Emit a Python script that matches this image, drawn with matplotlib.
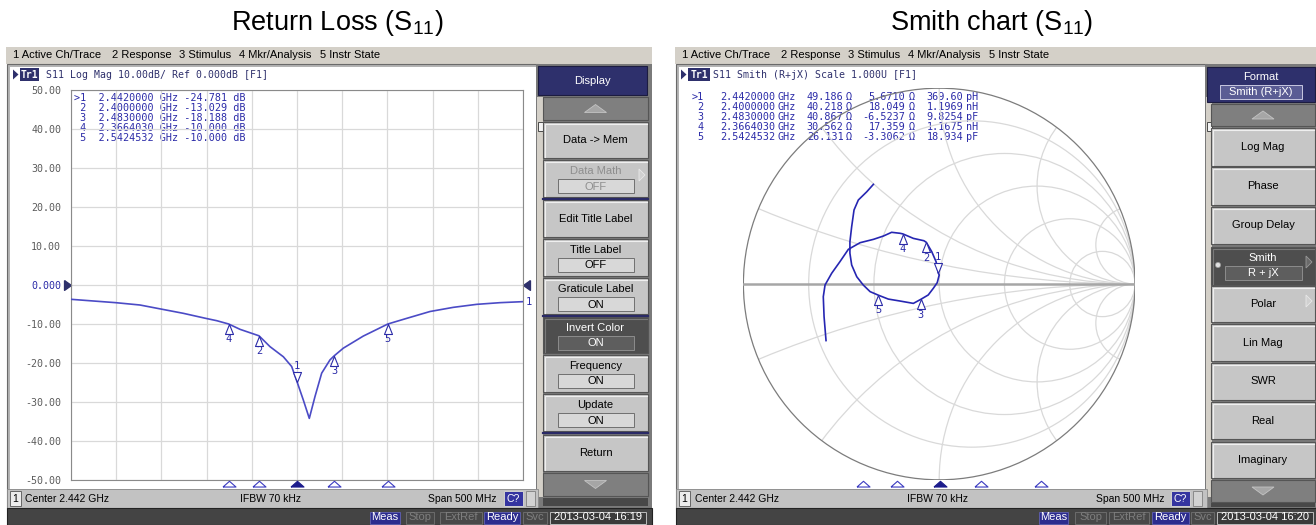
import numpy as np
import matplotlib.pyplot as plt
from matplotlib.patches import Rectangle, Circle, Polygon
import matplotlib.transforms as mtransforms

plt.rcParams['mathtext.fontset'] = 'custom'
plt.rcParams['mathtext.rm'] = 'Liberation Sans'
plt.rcParams['mathtext.default'] = 'regular'

start_ghz, stop_ghz = 2.192, 2.692

freq_ghz = [2.192, 2.2167, 2.2414, 2.2683, 2.2912, 2.3162, 2.341, 2.3532, 2.3664,
            2.379, 2.400, 2.4121, 2.4269, 2.4361, 2.442, 2.449, 2.4556, 2.4619,
            2.4693, 2.4785, 2.483, 2.4932, 2.5153, 2.5425, 2.5634, 2.5891, 2.6149,
            2.6408, 2.6666, 2.692]
s11_db = [-3.67, -4.1, -4.53, -5.13, -6.15, -7.26, -8.55, -9.15, -10.0,
          -11.37, -13.03, -15.8, -18.4, -20.9, -24.78, -29.5, -34.2, -28.6,
          -22.6, -19.2, -18.19, -16.2, -13.1, -10.0, -8.55, -6.8, -5.73,
          -4.96, -4.53, -4.27]

mk_num = [1, 2, 3, 4, 5]
mk_freq = [2.4420000, 2.4000000, 2.4830000, 2.3664030, 2.5424532]
mk_db = [-24.781, -13.029, -18.188, -10.000, -10.000]
mk_r = [49.186, 40.218, 40.867, 30.562, 26.131]
mk_x = [5.6710, 18.049, -6.5237, 17.359, -3.3062]
mk_lc = [369.60, 1.1969, 9.8254, 1.1675, 18.934]
mk_lc_unit = ["pH", "nH", "pF", "nH", "pF"]

# S11 trace on the Smith chart (reflection coefficient, start -> stop)
gamma_re = [-0.578, -0.588, -0.592, -0.583, -0.549, -0.507, -0.464, -0.404, -0.336,
            -0.285, -0.243, -0.200, -0.186, -0.132, -0.078, -0.066, -0.038, -0.016,
            -0.005, 0.000, -0.010, -0.030, -0.056, -0.095, -0.132, -0.200, -0.260,
            -0.311, -0.353, -0.388, -0.421, -0.447, -0.456, -0.456, -0.447, -0.435,
            -0.413, -0.370, -0.336]
gamma_im = [-0.289, -0.167, -0.065, -0.005, 0.055, 0.114, 0.177, 0.211, 0.228,
            0.245, 0.264, 0.259, 0.256, 0.233, 0.221, 0.213, 0.165, 0.114,
            0.057, 0.046, 0.007, -0.022, -0.056, -0.079, -0.099, -0.087, -0.077,
            -0.057, -0.039, -0.005, 0.037, 0.097, 0.157, 0.216, 0.293, 0.378,
            0.429, 0.471, 0.509]

db_ticks = [50, 40, 30, 20, 10, 0, -10, -20, -30, -40, -50]
db_labels = ["50.00", "40.00", "30.00", "20.00", "10.00", "0.000",
             "-10.00", "-20.00", "-30.00", "-40.00", "-50.00"]
smith_r = [0.2, 0.5, 1, 2, 5]
smith_x = [0.2, 0.5, 1, 2, 5]

UI = 'Liberation Sans'
MONO = 'DejaVu Sans Mono'
NAVY = '#2e306c'
MKC = '#2b2ba8'
GRID = '#d9d9d9'

W, H = 1316, 525
fig = plt.figure(figsize=(W / 100, H / 100), dpi=100)
bg = fig.add_axes([0, 0, 1, 1])
bg.set_xlim(0, W)
bg.set_ylim(H, 0)
bg.axis('off')


def px_axes(x0, y0, x1, y1):
    return fig.add_axes([x0 / W, 1 - y1 / H, (x1 - x0) / W, (y1 - y0) / H])


def box(x0, y0, x1, y1, fc, ec='none', lw=0.8, z=1):
    bg.add_patch(Rectangle((x0, y0), x1 - x0, y1 - y0, facecolor=fc,
                           edgecolor=ec, linewidth=lw, zorder=z))


def txt(x, y, s, size=8, color='black', ha='left', family=UI, **kw):
    bg.text(x, y, s, fontsize=size, color=color, ha=ha, va='center',
            family=family, zorder=5, **kw)


def tri(pts, fc, ec='none', lw=0.6):
    bg.add_patch(Polygon(pts, closed=True, facecolor=fc, edgecolor=ec,
                         linewidth=lw, zorder=4))


def key(x0, y0, x1, y1, label, value=None, dark=False, grey=False,
        arrow=False, dot=False, bx=(15, 14)):
    fc = '#4e4e4e' if dark else '#c6c6c6'
    box(x0, y0, x1, y1, fc, '#555555', 0.8, z=2)
    hl = '#7a7a7a' if dark else '#efefef'
    bg.plot([x0 + 1.5, x0 + 1.5, x1 - 1.5], [y1 - 1.5, y0 + 1.5, y0 + 1.5],
            color=hl, lw=0.8, zorder=3)
    tc = 'white' if dark else ('#8e8e8e' if grey else 'black')
    cx = (x0 + x1) / 2
    if value is None:
        txt(cx, (y0 + y1) / 2, label, color=tc, ha='center')
    else:
        txt(cx, y0 + 11, label, color=tc, ha='center')
        box(x0 + bx[0], y0 + 19, x1 - bx[1], y0 + 33,
            '#5e5e5e' if dark else '#d8d8d8', '#8c8c8c' if dark else '#707070', 0.7, z=3)
        txt((x0 + bx[0] + x1 - bx[1]) / 2, y0 + 26.5, value, color=tc, ha='center')
    if arrow:
        tri([(x1 - 9, y0 + 9), (x1 - 9, y0 + 21), (x1 - 3, y0 + 15)],
            '#d0d0d0' if not dark else '#6a6a6a', '#e8e8e8' if not dark else '#9a9a9a')
    if dot:
        bg.add_patch(Circle((x0 + 7, y0 + 18), 2.6, facecolor='#e0e0e0',
                            edgecolor='#999999', lw=0.5, zorder=4))


def scroll(x0, y0, x1, y1, up):
    box(x0, y0, x1, y1, '#7f7f7f', '#555555', 0.8, z=2)
    cx, cy = (x0 + x1) / 2, (y0 + y1) / 2
    if up:
        pts = [(cx - 11, cy + 4), (cx + 11, cy + 4), (cx, cy - 4)]
    else:
        pts = [(cx - 11, cy - 4), (cx + 11, cy - 4), (cx, cy + 4)]
    tri(pts, '#a6a6a6', '#c4c4c4')


def status_bits(ox, x_c, x_ifbw, x_span, x_cq, items, date):
    box(ox + 7, 489, ox + 538, 508, '#c2c2c2', '#8a8a8a', 0.6)
    box(ox + 10, 491, ox + 21, 506, '#ececec', '#666666', 0.7, z=2)
    txt(ox + 15.5, 498.5, "1", size=7.5, ha='center')
    txt(x_c, 498.5, "Center 2.442 GHz", size=7.5)
    txt(x_ifbw, 498.5, "IFBW 70 kHz", size=7.5)
    txt(x_span, 498.5, "Span 500 MHz", size=7.5, ha='right')
    box(x_cq, 491, x_cq + 19, 506, '#3434a0', '#d0d0d0', 0.7, z=2)
    txt(x_cq + 9.5, 498.5, "C?", size=7.5, color='white', ha='center')
    box(x_cq + 22, 491, x_cq + 31, 506, '#d2d2d2', '#8a8a8a', 0.7, z=2)
    box(ox + 7, 508, ox + 652, 525, '#444444', '#222222', 0.8)
    for a, b, s, on in items:
        if on:
            box(a, 511.5, b, 523.5, '#2c2c8e', '#5c5ca8', 0.7, z=2)
            txt((a + b) / 2, 517.5, s, size=8, color='white', ha='center')
        else:
            box(a, 511.5, b, 523.5, '#484848', '#6c6c6c', 0.7, z=2)
            txt((a + b) / 2, 517.5, s, size=8, color='#7e7e7e', ha='center')
    a, b = date
    box(a, 511.5, b, 523.5, '#3a3a3a', '#bcbcbc', 0.7, z=2)
    txt((a + b) / 2, 517.5, s_date[ox > 0], size=8, color='white', ha='center')


s_date = ["2013-03-04 16:19", "2013-03-04 16:20"]
menu = ["1 Active Ch/Trace", "2 Response", "3 Stimulus", "4 Mkr/Analysis", "5 Instr State"]
menu_x = [12.7, 111.7, 179, 239, 320]

# ---------- shared window chrome ----------
for ox in (0, 669):
    box(ox + 6, 47, ox + 652, 64, '#d4d0c8')
    for s, mx in zip(menu, menu_x):
        txt(ox + mx, 55.5, s, size=8)
    box(ox + 7, 64, ox + 538, 509, '#b4b4b4', '#6a6a6a', 0.8)
    box(ox + 10, 66.5, ox + 536, 489, 'white')
    box(ox + 536, 64, ox + 652, 508, '#7a7a7a')
    box(ox + 537, 97, ox + 543, 497, '#d4d0c8')
    box(ox + 537.5, 122, ox + 542.5, 131, '#f4f4f4', '#333333', 0.6, z=2)

# ---------- left: Log Mag ----------
txt(337, 23, "Return Loss (S$_{11}$)", size=19.5, ha='center')
tri([(13, 69.5), (13, 79.5), (18.5, 74.5)], NAVY)
box(20, 68, 39, 81, NAVY, z=3)
txt(29.5, 74.5, "Tr1", size=7, color='white', ha='center', family=MONO, weight='bold')
txt(45.5, 74.5, "S11 Log Mag 10.00dB/ Ref 0.000dB [F1]", size=7.1, color=NAVY, family=MONO)

lm = px_axes(71, 90, 523, 480)
lm.patch.set_alpha(0)
lm.set_xlim(start_ghz, stop_ghz)
lm.set_ylim(-50, 50)
lm.set_xticks(np.linspace(start_ghz, stop_ghz, 11))
lm.set_yticks(db_ticks)
lm.set_yticklabels(db_labels, family=MONO, fontsize=7.2, color='#5c5c5c')
lm.get_yticklabels()[5].set_color(MKC)
lm.tick_params(length=0, labelbottom=False, pad=7)
lm.grid(color=GRID, lw=0.9)
for sp in lm.spines.values():
    sp.set_color('#8a8a8a')
    sp.set_linewidth(0.8)
lm.plot(freq_ghz, s11_db, color='#4b4bc6', lw=1.2, zorder=3)

tip_below = [(0, 0), (-0.4, -1), (0.4, -1), (0, 0)]
tip_above = [(0, 0), (-0.4, 1), (0.4, 1), (0, 0)]
stim_tri = [(-1, -1), (1, -1), (0, -0.12), (-1, -1)]


def trace_markers(ax, xs, ys):
    for n, xv, yv in zip(mk_num, xs, ys):
        if n == 1:
            ax.plot(xv, yv, marker=tip_above, ms=14.4, mfc='white', mec=MKC,
                    mew=0.8, zorder=4, clip_on=False)
            ax.annotate(str(n), (xv, yv), xytext=(0, 11), textcoords='offset points',
                        ha='center', va='center', fontsize=7.5, family=MONO, color=MKC)
        else:
            ax.plot(xv, yv, marker=tip_below, ms=14.4, mfc='white', mec=MKC,
                    mew=0.8, zorder=4, clip_on=False)
            ax.annotate(str(n), (xv, yv), xytext=(0, -11), textcoords='offset points',
                        ha='center', va='center', fontsize=7.5, family=MONO, color=MKC)


def stim_markers(ax):
    tr = mtransforms.blended_transform_factory(ax.transData, ax.transAxes)
    for n, f in zip(mk_num, mk_freq):
        active = n == 1
        ax.plot(f, 0, marker=stim_tri, ms=9.4, transform=tr, clip_on=False,
                mfc='#1c1c8c' if active else 'white', mec='#1c1c8c' if active else '#3a3ac0',
                mew=0.8, zorder=4)


trace_markers(lm, mk_freq, mk_db)
stim_markers(lm)
ref_tr = mtransforms.blended_transform_factory(lm.transAxes, lm.transData)
lm.plot(0, 0, marker=[(-1, 0.7), (-1, -0.7), (0, 0), (-1, 0.7)], ms=10, color=NAVY,
        transform=ref_tr, clip_on=False)
lm.plot(1, 0, marker=[(1, 0.7), (1, -0.7), (0, 0), (1, 0.7)], ms=10, color=NAVY,
        transform=ref_tr, clip_on=False)
lm.annotate("1", (freq_ghz[-1], s11_db[-1]), xytext=(2, 0), textcoords='offset points',
            ha='left', va='center', fontsize=7.5, family=MONO, color=MKC,
            annotation_clip=False)

for i, (n, f, d) in enumerate(zip(mk_num, mk_freq, mk_db)):
    pre = ">%d" % n if n == 1 else " %d" % n
    txt(74, 98.3 + 10 * i, "%s  %.7f GHz %.3f dB" % (pre, f, d), size=7.3,
        color=MKC, family=MONO)

# left softkeys
box(538, 66, 647, 95, NAVY, '#1c1c40', 0.8, z=2)
txt(592.5, 81, "Display", color='white', ha='center')
scroll(543, 97, 648, 120, True)
key(543, 122, 648, 158, "Data -> Mem")
key(543, 160, 648, 197, "Data Math", "OFF", grey=True, arrow=True)
key(543, 200, 648, 237, "Edit Title Label")
key(543, 239, 648, 276, "Title Label", "OFF")
key(543, 278, 648, 314, "Graticule Label", "ON")
key(543, 317, 648, 353, "Invert Color", "ON", dark=True)
key(543, 355, 648, 392, "Frequency", "ON")
key(543, 394, 648, 431, "Update", "ON")
key(543, 435, 648, 471, "Return")
scroll(543, 473, 648, 496, False)
box(543, 498, 648, 506, '#484848')
for ys in (198.5, 315.5, 433):
    bg.plot([543, 648], [ys, ys], color='#2a2a66', lw=1.6, zorder=3)

status_bits(0, 25, 240, 497, 504,
            [(370, 400, "Meas", True), (406, 434, "Stop", False),
             (440, 482, "ExtRef", False), (484, 520, "Ready", True),
             (523, 547, "Svc", False)], (550, 646))

# ---------- right: Smith chart ----------
txt(992, 23, "Smith chart (S$_{11}$)", size=19.5, ha='center')
tri([(681, 69.5), (681, 79.5), (686.5, 74.5)], NAVY)
box(688, 68, 710, 81, NAVY, z=3)
txt(699, 74.5, "Tr1", size=7, color='white', ha='center', family=MONO, weight='bold')
txt(712.7, 74.5, "S11 Smith (R+jX) Scale 1.000U [F1]", size=7.1, color=NAVY, family=MONO)

cx, cy, rad = 939.2, 284, 195.8
sm = px_axes(cx - rad, cy - rad, cx + rad, cy + rad)
sm.set_xlim(-1, 1)
sm.set_ylim(-1, 1)
sm.set_aspect('equal')
sm.axis('off')
clip = Circle((0, 0), 1, transform=sm.transData)
for r in smith_r:
    sm.add_patch(Circle((r / (1 + r), 0), 1 / (1 + r), fill=False, ec=GRID, lw=0.9))
for xv in smith_x:
    for sg in (1, -1):
        c = Circle((1, sg / xv), 1 / xv, fill=False, ec=GRID, lw=0.9)
        sm.add_patch(c)
        c.set_clip_path(clip)
sm.plot([-1, 1], [0, 0], color='#a6a6a6', lw=1.8)
sm.add_patch(Circle((0, 0), 1, fill=False, ec='#7c7c7c', lw=0.9))
sm.plot(gamma_re, gamma_im, color='#2626b2', lw=1.2, zorder=3)

z_norm = (np.array(mk_r) + 1j * np.array(mk_x)) / 50.0
gam = (z_norm - 1) / (z_norm + 1)
trace_markers(sm, gam.real, gam.imag)

st = px_axes(687, 470, 1192, 480)
st.set_xlim(start_ghz, stop_ghz)
st.set_ylim(0, 1)
st.axis('off')
stim_markers(st)

for i, n in enumerate(mk_num):
    y = 97.5 + 10 * i
    txt(703.5, y, ">%d" % n if n == 1 else "%d" % n, size=7.3, color=MKC, family=MONO, ha='right')
    txt(775.5, y, "%.7f" % mk_freq[i], size=7.3, color=MKC, family=MONO, ha='right')
    txt(777.5, y, "GHz", size=7.3, color=MKC, family=MONO)
    txt(843.5, y, "%#.5g" % mk_r[i], size=7.3, color=MKC, family=MONO, ha='right')
    txt(846, y, "Ω", size=7.3, color=MKC, family=MONO)
    txt(905.5, y, "%#.5g" % mk_x[i], size=7.3, color=MKC, family=MONO, ha='right')
    txt(909, y, "Ω", size=7.3, color=MKC, family=MONO)
    txt(963.5, y, "%#.5g" % mk_lc[i], size=7.3, color=MKC, family=MONO, ha='right')
    txt(966, y, mk_lc_unit[i], size=7.3, color=MKC, family=MONO)

# right softkeys
box(1207, 67, 1315, 102, NAVY, '#1c1c40', 0.8, z=2)
txt(1261, 77, "Format", color='white', ha='center')
box(1220, 85, 1302, 99, '#5a5c94', '#c8c8e0', 0.7, z=3)
txt(1261, 92, "Smith (R+jX)", color='white', ha='center')
scroll(1211, 104, 1315, 126, True)
key(1211, 128, 1315, 166, "Log Mag")
key(1211, 167, 1315, 205, "Phase")
key(1211, 207, 1315, 244, "Group Delay")
key(1211, 247, 1315, 285, "Smith", "R + jX", dark=True, arrow=True, dot=True, bx=(14, 13))
key(1211, 286, 1315, 322, "Polar", arrow=True)
key(1211, 324, 1315, 361, "Lin Mag")
key(1211, 363, 1315, 400, "SWR")
key(1211, 402, 1315, 439, "Real")
key(1211, 442, 1315, 478, "Imaginary")
scroll(1211, 480, 1315, 502, False)
box(1211, 503, 1315, 507, '#484848')

status_bits(669, 695, 907, 1165, 1171,
            [(1039, 1068, "Meas", True), (1075, 1106, "Stop", False),
             (1109, 1149, "ExtRef", False), (1152, 1189, "Ready", True),
             (1191, 1214, "Svc", False)], (1217, 1313))

fig.savefig("out.png", dpi=100)
